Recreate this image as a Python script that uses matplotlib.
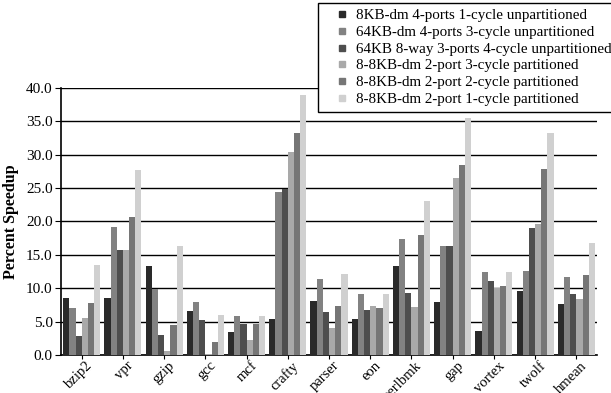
import numpy as np
import matplotlib
matplotlib.use("Agg")
import matplotlib.pyplot as plt
from matplotlib.lines import Line2D
from matplotlib.transforms import ScaledTranslation

plt.rcParams['font.family'] = ['Liberation Serif', 'DejaVu Serif']

benchmarks = ['bzip2', 'vpr', 'gzip', 'gcc', 'mcf', 'crafty', 'parser',
              'eon', 'perlbmk', 'gap', 'vortex', 'twolf', 'hmean']

series_names = [
    '8KB-dm 4-ports 1-cycle unpartitioned',
    '64KB-dm 4-ports 3-cycle unpartitioned',
    '64KB 8-way 3-ports 4-cycle unpartitioned',
    '8-8KB-dm 2-port 3-cycle partitioned',
    '8-8KB-dm 2-port 2-cycle partitioned',
    '8-8KB-dm 2-port 1-cycle partitioned',
]

dm8_1cyc = [8.5, 8.6, 13.3, 6.6, 3.4, 5.4, 8.1, 5.4, 13.3, 8.0, 3.6, 9.6, 7.6]
dm64_3cyc = [7.1, 19.2, 9.9, 7.9, 5.8, 24.4, 11.3, 9.2, 17.4, 16.3, 12.4, 12.5, 11.7]
way8_4cyc = [2.8, 15.7, 3.0, 5.3, 4.6, 24.9, 6.5, 6.8, 9.3, 16.3, 11.1, 19.0, 9.1]
part_3cyc = [5.6, 15.7, 0.6, 0.2, 2.3, 30.4, 4.1, 7.4, 7.2, 26.5, 10.0, 19.6, 8.4]
part_2cyc = [7.8, 20.6, 4.5, 2.0, 4.6, 33.3, 7.3, 7.1, 18.0, 28.5, 10.3, 27.9, 12.0]
part_1cyc = [13.4, 27.7, 16.3, 6.0, 5.8, 39.0, 12.1, 9.2, 23.0, 35.5, 12.4, 33.2, 16.7]

series = [dm8_1cyc, dm64_3cyc, way8_4cyc, part_3cyc, part_2cyc, part_1cyc]
colors = ['#2a2a2a', '#828282', '#4e4e4e', '#a9a9a9', '#767676', '#d0d0d0']

fig = plt.figure(figsize=(6.11, 3.93), dpi=100)
ax = fig.add_axes([0.1, 0.097, 0.877, 0.679])

x = np.arange(len(benchmarks))
width = 0.15
for i, (vals, c) in enumerate(zip(series, colors)):
    ax.bar(x + (i - 2.5) * width, vals, width, color=c, zorder=3)

ax.set_ylim(0, 40)
ax.set_xlim(-0.5, len(benchmarks) - 0.5)
yt = np.arange(0, 40.1, 5)
ax.set_yticks(yt)
ax.set_yticklabels(['%.1f' % v for v in yt], fontsize=11)
ax.yaxis.grid(True, color='black', linewidth=1.0, zorder=0)
ax.set_axisbelow(True)
ax.set_xticks(x)
ax.tick_params(axis='x', length=3, pad=0)
ax.tick_params(axis='y', length=4, pad=2)
ax.set_xticklabels(benchmarks, rotation=45, ha='right', va='top',
                   rotation_mode='anchor', fontsize=10.5)
# nudge rotated names a little to the right of their ticks
shift = ScaledTranslation(4 / 100, 0, fig.dpi_scale_trans)
for lbl in ax.get_xticklabels():
    lbl.set_transform(lbl.get_transform() + shift)
ax.set_ylabel('Percent Speedup', fontsize=11.5, fontweight='bold', labelpad=5)

for side in ['top', 'right']:
    ax.spines[side].set_visible(False)
ax.spines['left'].set_linewidth(1.2)
ax.spines['bottom'].set_linewidth(1.2)

# small square swatches in the legend
handles = [Line2D([], [], marker='s', linestyle='none', markersize=5,
                  markerfacecolor=c, markeredgecolor=c) for c in colors]
leg = fig.legend(handles, series_names, loc='upper left',
                 bbox_to_anchor=(318 / 611, 1 - 3 / 393),
                 fontsize=10.8, fancybox=False, framealpha=1, edgecolor='black',
                 handlelength=2.4, handletextpad=-0.3,
                 labelspacing=0.21, borderpad=0.4, borderaxespad=0)
leg.get_frame().set_linewidth(1.0)

fig.savefig('out.png', dpi=100)
